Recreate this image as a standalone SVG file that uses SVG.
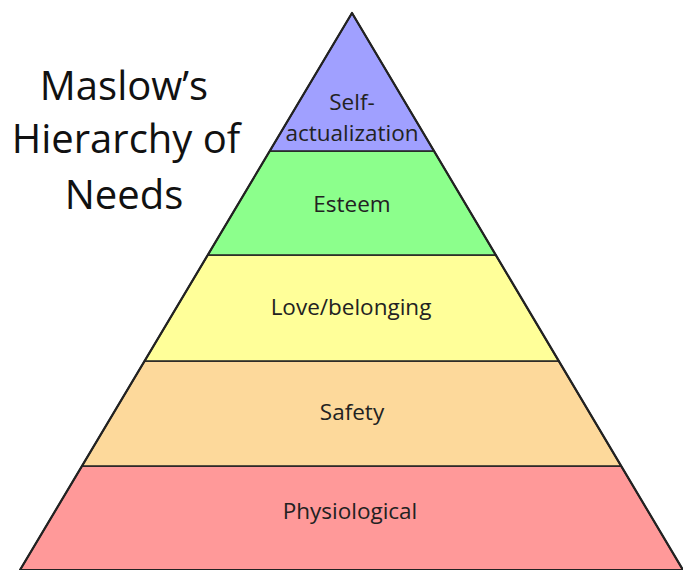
<svg xmlns="http://www.w3.org/2000/svg" width="683" height="570" viewBox="0 0 683 570">
  <style>
    .band { stroke: #222; stroke-width: 1.6; stroke-linejoin: round; }
    .lbl { font-family: "Open Sans", "Liberation Sans", sans-serif; font-size: 22.5px; fill: #222; text-anchor: middle; }
    .title { font-family: "Open Sans", "Liberation Sans", sans-serif; font-size: 40px; fill: #111; text-anchor: middle; }
  </style>
  <rect width="683" height="570" fill="#ffffff"/>

  <g id="title">
    <text class="title" x="124" y="100">Maslow’s</text>
    <text class="title" x="126" y="153">Hierarchy of</text>
    <text class="title" x="124" y="209">Needs</text>
  </g>

  <g id="physiological">
    <polygon class="band" fill="#ff9999" points="82,466 621.1,466 683,570 20,570"/>
    <text class="lbl" x="350" y="519">Physiological</text>
  </g>
  <g id="safety">
    <polygon class="band" fill="#fdd99b" points="144.6,361 558.7,361 621.1,466 82,466"/>
    <text class="lbl" x="352" y="420">Safety</text>
  </g>
  <g id="love-belonging">
    <polygon class="band" fill="#ffff99" points="207.8,255 495.7,255 558.7,361 144.6,361"/>
    <text class="lbl" x="351" y="315">Love/belonging</text>
  </g>
  <g id="esteem">
    <polygon class="band" fill="#8cff8c" points="269.8,151 434,151 495.7,255 207.8,255"/>
    <text class="lbl" x="352" y="212">Esteem</text>
  </g>
  <g id="self-actualization">
    <polygon class="band" fill="#a0a0ff" points="352,13 434,151 269.8,151"/>
    <text class="lbl" x="352" y="110">Self-</text>
    <text class="lbl" x="352" y="141">actualization</text>
  </g>

  <!-- outer outline of the pyramid -->
  <polygon points="352,13 683,570 20,570" fill="none" stroke="#222" stroke-width="2.2" stroke-linejoin="round"/>
</svg>
